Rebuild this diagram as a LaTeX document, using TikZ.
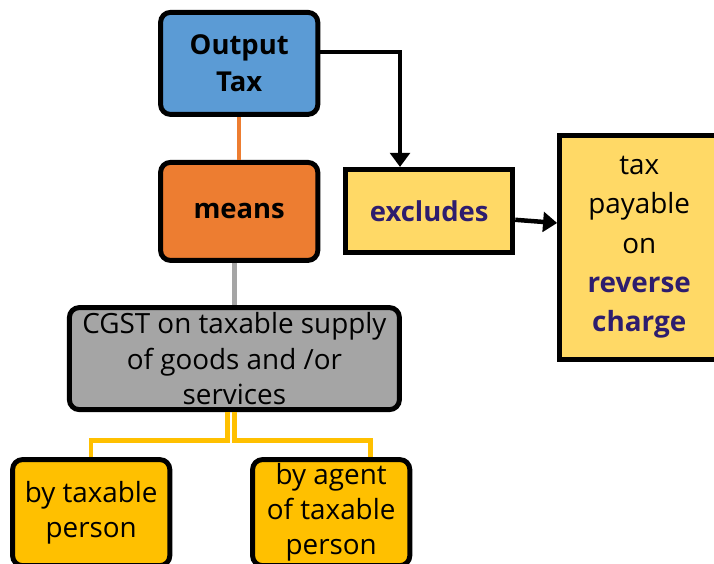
\documentclass[tikz,border=0pt]{standalone}
\usepackage{fontspec}
\setmainfont{Open Sans}
\usetikzlibrary{arrows.meta,positioning}
\definecolor{otblue}{RGB}{91,155,213}
\definecolor{otorange}{RGB}{237,125,49}
\definecolor{otgray}{RGB}{165,165,165}
\definecolor{otyellow}{RGB}{255,217,102}
\definecolor{otgold}{RGB}{255,192,0}
\definecolor{otindigo}{RGB}{46,29,110}

\begin{document}
\begin{tikzpicture}[
  box/.style={draw=black, line width=3.5pt, rounded corners=7pt, align=center, inner sep=2pt, font=\fontsize{19.8}{25}\selectfont},
  sqbox/.style={box, sharp corners, fill=otyellow},
  flow/.style={-{Triangle[length=10pt,width=14pt]}, line width=3.2pt, black},
  link/.style={line width=3pt}
]
  \useasboundingbox (0,0) rectangle (17.85,14.075);

  % Main chain: Output Tax -> means -> CGST
  \node[box, fill=otblue, minimum width=3.93cm, minimum height=2.55cm, font=\fontsize{19.5}{26}\selectfont\bfseries] (out) at (5.98,12.49) {Output\\Tax};
  \node[box, fill=otorange, minimum width=3.93cm, minimum height=2.45cm, font=\fontsize{19.5}{26}\selectfont\bfseries] (means) at (5.98,8.79) {means};
  \node[box, fill=otgray, minimum width=8.25cm, minimum height=2.55cm] (cgst) at (5.86,5.11) {CGST on taxable supply\\of goods and /or\\services};
  \draw[link, otorange] (out.south) -- (means.north);
  \draw[link, otgray] (cgst.north |- means.south) -- (cgst.north);

  % Exclusion
  \node[sqbox, minimum width=4.18cm, minimum height=2.08cm, font=\fontsize{19.5}{26}\selectfont\bfseries, text=otindigo] (excl) at (10.73,8.80) {excludes};
  \node[sqbox, minimum width=3.98cm, minimum height=5.6cm, font=\fontsize{19.8}{28}\selectfont] (rc) at (15.98,7.89) {tax\\payable\\on\\\textcolor{otindigo}{\bfseries reverse}\\\textcolor{otindigo}{\bfseries charge}};
  \draw[flow] ([xshift=-0.1cm,yshift=0.29cm]out.east) -| ([xshift=-0.73cm]excl.north);
  \draw[flow] ([yshift=-0.22cm]excl.east) -- ([yshift=0.61cm]rc.west);

  % Who supplies
  \node[box, fill=otgold, minimum width=3.93cm, minimum height=2.65cm] (by1) at (2.28,1.26) {by taxable\\person};
  \node[box, fill=otgold, minimum width=3.93cm, minimum height=2.65cm] (by2) at (8.28,1.26) {by agent\\of taxable\\person};
  \draw[link, otgold] ([xshift=-0.17cm]cgst.south) -- ++(0,-0.71) -| (by1.north);
  \draw[link, otgold] (cgst.south) -- ++(0,-0.71) -| ([xshift=0.98cm]by2.north);
\end{tikzpicture}
\end{document}
